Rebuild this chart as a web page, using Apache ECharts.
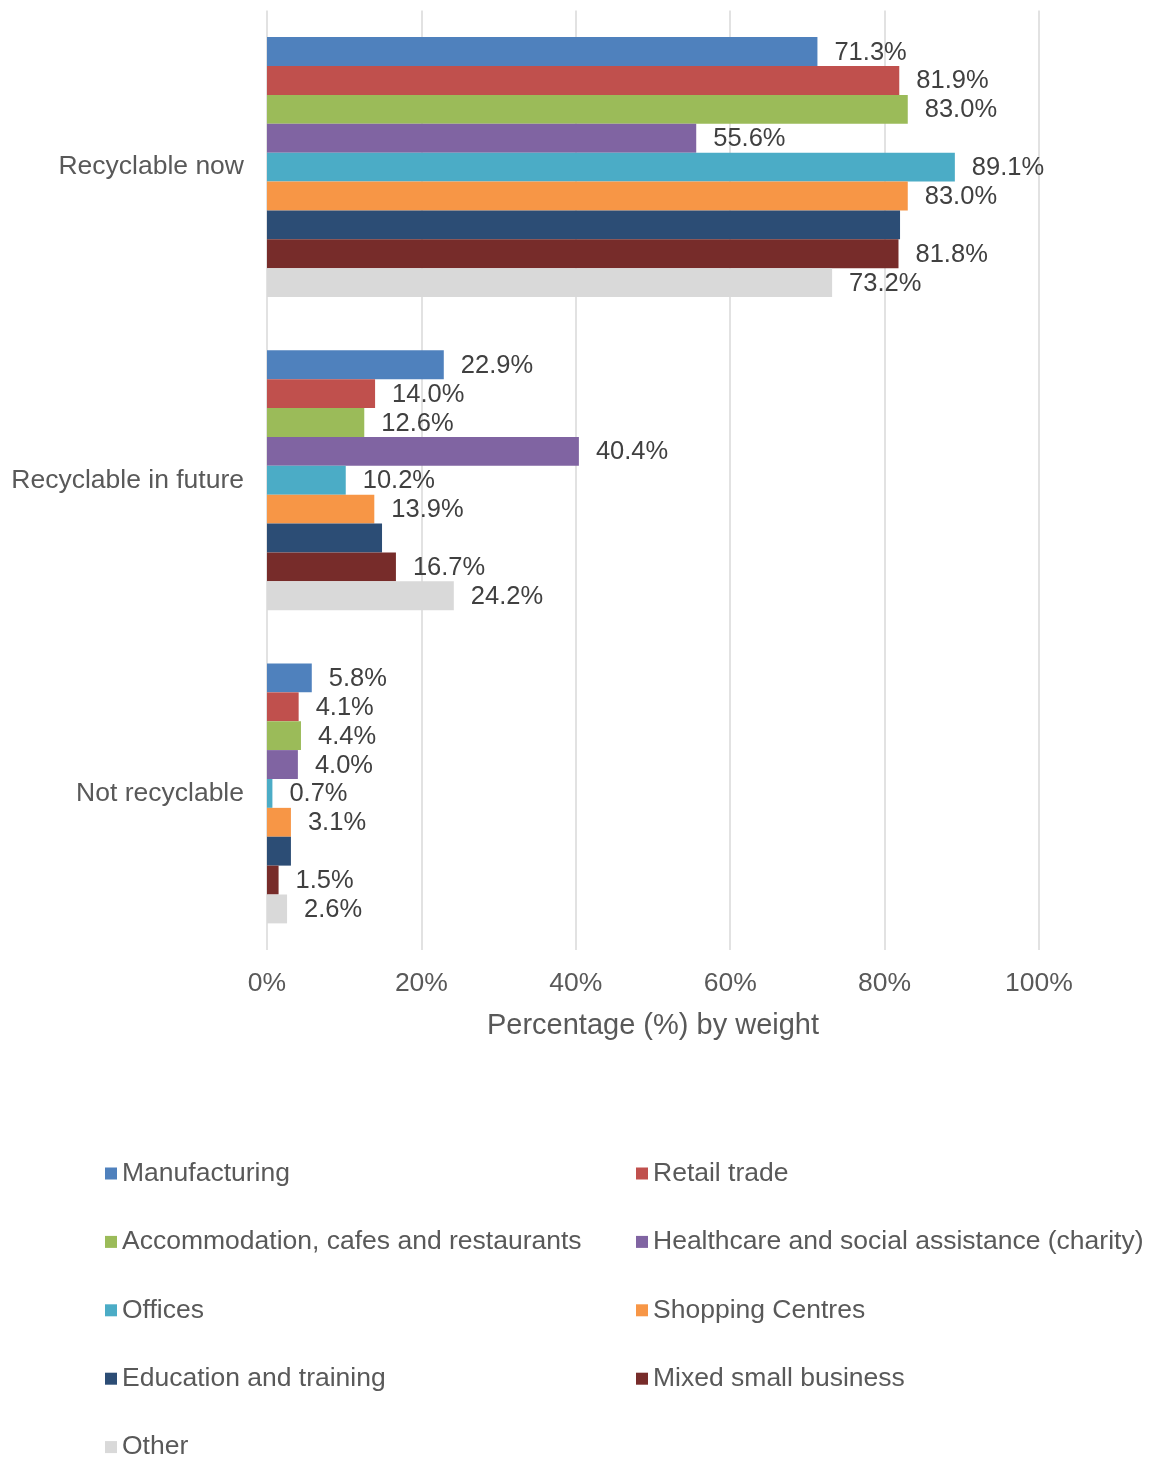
<!DOCTYPE html>
<html>
<head>
<meta charset="utf-8">
<script src="https://cdn.jsdelivr.net/npm/echarts@6/dist/echarts.min.js"></script>
<style>
  html, body { margin: 0; padding: 0; background: #ffffff; }
  #chart { width: 1157px; height: 1458px; }
</style>
</head>
<body>
<div id="chart"></div>
<script>
// Waste composition by recyclability, per business sector (percentage by weight)
const categories = ['Recyclable now', 'Recyclable in future', 'Not recyclable'];

const sectorNames = [
  'Manufacturing',
  'Retail trade',
  'Accommodation, cafes and restaurants',
  'Healthcare and social assistance (charity)',
  'Offices',
  'Shopping Centres',
  'Education and training',
  'Mixed small business',
  'Other'
];

const manufacturing = [71.3, 22.9, 5.8];
const retailTrade = [81.9, 14.0, 4.1];
const accommodation = [83.0, 12.6, 4.4];
const healthcare = [55.6, 40.4, 4.0];
const offices = [89.1, 10.2, 0.7];
const shoppingCentres = [83.0, 13.9, 3.1];
const education = [82.0, 14.9, 3.1];
const mixedSmallBusiness = [81.8, 16.7, 1.5];
const other = [73.2, 24.2, 2.6];

const xTicks = { min: 0, max: 100, step: 20 };

const sectorValues = [
  manufacturing, retailTrade, accommodation, healthcare, offices,
  shoppingCentres, education, mixedSmallBusiness, other
];

const sectorColors = [
  '#4F81BD', '#C0504D', '#9BBB59', '#8064A2', '#4BACC6',
  '#F79646', '#2C4D75', '#772C2A', '#D9D9D9'
];

// The education series carries no value labels
const labelled = [true, true, true, true, true, true, false, true, true];

const FONT = '"Liberation Sans", Arial, sans-serif';

const series = sectorNames.map((name, i) => ({
  name: name,
  type: 'bar',
  data: sectorValues[i],
  barGap: '0%',
  barCategoryGap: '17%',
  itemStyle: { color: sectorColors[i] },
  label: {
    show: labelled[i],
    position: 'right',
    distance: 17,
    offset: [0, 1],
    formatter: p => p.value.toFixed(1) + '%',
    color: '#404040',
    fontSize: 25.5,
    fontFamily: FONT
  },
  emphasis: { disabled: true }
}));

const legendText = { color: '#595959', fontSize: 26.5, fontFamily: FONT, lineHeight: 26 };

function legendColumn(left, names) {
  return {
    orient: 'vertical',
    left: left,
    top: 1160,
    height: 320,
    padding: 0,
    data: names,
    icon: 'rect',
    itemWidth: 12,
    itemHeight: 12,
    itemGap: 41.4,
    textStyle: legendText,
    selectedMode: false
  };
}

const chart = echarts.init(document.getElementById('chart'), null, { renderer: 'canvas' });
chart.setOption({
  animation: false,
  backgroundColor: '#ffffff',
  grid: { left: 267, right: 118, top: 10.5, bottom: 508, containLabel: false },
  xAxis: {
    type: 'value',
    min: xTicks.min,
    max: xTicks.max,
    interval: xTicks.step,
    axisLine: { show: false },
    axisTick: { show: false },
    splitLine: { show: true, lineStyle: { color: '#D9D9D9', width: 1.5 } },
    axisLabel: {
      formatter: '{value}%',
      color: '#595959',
      fontSize: 26.5,
      fontFamily: FONT,
      margin: 20
    },
    name: 'Percentage (%) by weight',
    nameLocation: 'middle',
    nameGap: 61,
    nameTextStyle: { color: '#595959', fontSize: 29, fontFamily: FONT }
  },
  yAxis: {
    type: 'category',
    data: categories,
    inverse: true,
    axisLine: { show: false },
    axisTick: { show: false },
    splitLine: { show: false },
    axisLabel: {
      color: '#595959',
      fontSize: 26.5,
      fontFamily: FONT,
      margin: 23
    }
  },
  legend: [
    legendColumn(105, [sectorNames[0], sectorNames[2], sectorNames[4], sectorNames[6], sectorNames[8]]),
    legendColumn(636, [sectorNames[1], sectorNames[3], sectorNames[5], sectorNames[7]])
  ],
  series: series
});
</script>
</body>
</html>
